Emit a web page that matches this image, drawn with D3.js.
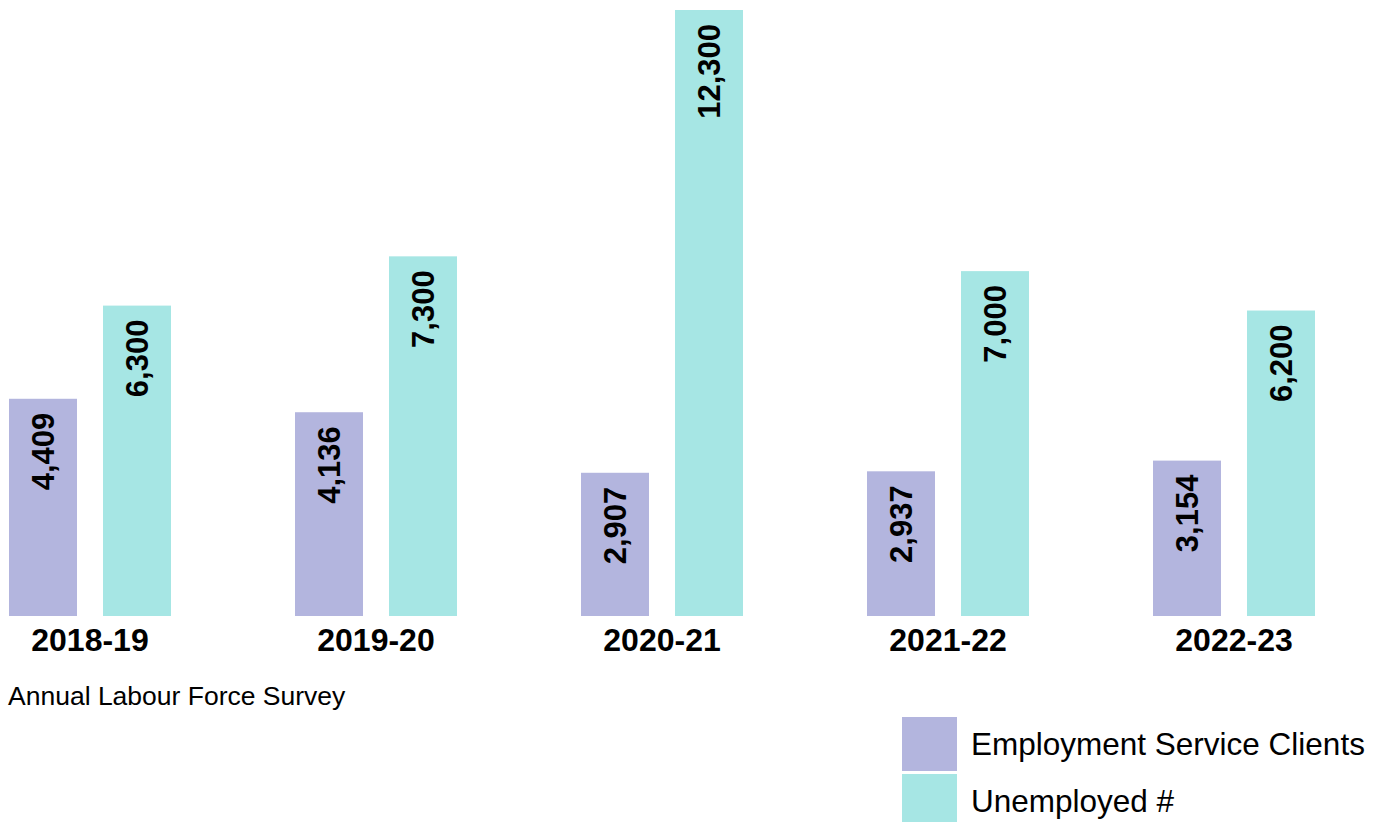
<!DOCTYPE html>
<html>
<head>
<meta charset="utf-8">
<script src="https://cdn.jsdelivr.net/npm/d3@7"></script>
<style>
  html, body { margin: 0; padding: 0; background: #fff; }
  svg { display: block; font-family: "Liberation Sans", Arial, Helvetica, sans-serif; }
</style>
</head>
<body>
<svg id="chart" width="1387" height="822"></svg>
<script>
// Financial years shown on the x axis
const years = ["2018-19", "2019-20", "2020-21", "2021-22", "2022-23"];
// Series names (legend order)
const seriesNames = ["Employment Service Clients", "Unemployed #"];
// Values per series, one per year
const clients = [4409, 4136, 2907, 2937, 3154];
const unemployed = [6300, 7300, 12300, 7000, 6200];
const sourceNote = "Annual Labour Force Survey";

const colors = ["#b3b5de", "#a6e6e4"];
const seriesValues = [clients, unemployed];

const rows = years.map((y, i) => ({
  year: y,
  values: seriesNames.map((s, k) => ({ key: s, value: seriesValues[k][i], color: colors[k] }))
}));

const svg = d3.select("#chart");
const baseY = 616;

const x0 = d3.scaleBand().domain(years).range([9, 1315]).paddingInner(0.4336).paddingOuter(0);
const x1 = d3.scaleBand().domain(seriesNames).range([0, x0.bandwidth()]).paddingInner(0.2766).paddingOuter(0);
const y = d3.scaleLinear().domain([0, 12300]).range([baseY, 10]);

const fmt = d3.format(",");

const groups = svg.append("g").selectAll("g")
  .data(rows).join("g")
  .attr("transform", d => `translate(${x0(d.year)},0)`);

groups.selectAll("rect")
  .data(d => d.values).join("rect")
  .attr("x", d => x1(d.key))
  .attr("y", d => y(d.value))
  .attr("width", x1.bandwidth())
  .attr("height", d => baseY - y(d.value))
  .attr("fill", d => d.color);

// Value labels, rotated, reading upward from near the top of each bar
groups.selectAll("text.val")
  .data(d => d.values).join("text")
  .attr("class", "val")
  .attr("transform", d => `translate(${x1(d.key) + x1.bandwidth() / 2},${y(d.value) + 14}) rotate(-90)`)
  .attr("text-anchor", "end")
  .attr("dy", "0.36em")
  .attr("font-size", 31)
  .attr("font-weight", "bold")
  .attr("fill", "#000")
  .text(d => fmt(d.value));

// Category axis labels
const xAxis = svg.append("g")
  .attr("transform", `translate(0,${baseY})`)
  .call(d3.axisBottom(x0).tickSize(0).tickPadding(35));
xAxis.select(".domain").remove();
xAxis.selectAll("text")
  .attr("font-size", 32)
  .attr("font-weight", "bold")
  .attr("font-family", "'Liberation Sans', Arial, sans-serif")
  .attr("fill", "#000")
  .attr("dy", 0);

// Source note
svg.append("text")
  .attr("x", 8)
  .attr("y", 705)
  .attr("text-anchor", "start")
  .attr("font-size", 26.5)
  .attr("fill", "#000")
  .text(sourceNote);

// Legend
const legend = svg.append("g").attr("transform", "translate(902,717)");
const items = legend.selectAll("g").data(seriesNames).join("g")
  .attr("transform", (d, i) => `translate(0,${i * 57})`);
items.append("rect")
  .attr("width", 55).attr("height", 54)
  .attr("fill", (d, i) => colors[i]);
items.append("text")
  .attr("x", 69).attr("y", 38)
  .attr("font-size", 31.5)
  .attr("fill", "#000")
  .text(d => d);
</script>
</body>
</html>
